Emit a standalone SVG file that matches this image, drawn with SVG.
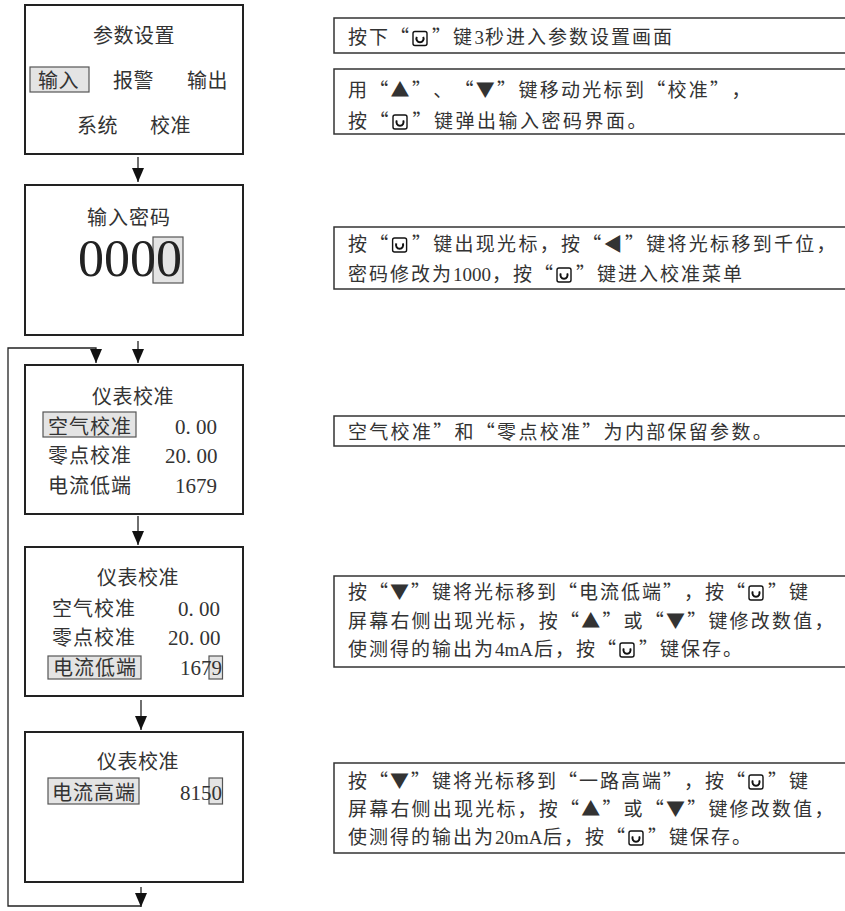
<svg xmlns="http://www.w3.org/2000/svg" xmlns:xlink="http://www.w3.org/1999/xlink" width="845" height="911" viewBox="0 0 845 911">
<style>
.box{fill:#fff;stroke:#222;stroke-width:2}
.note{fill:#fff;stroke:#333;stroke-width:1.5}
.hl{fill:#e4e4e4;stroke:#555;stroke-width:1.2}
.s{font-family:"Noto Sans CJK SC",sans-serif;font-size:20px;fill:#333}
.t{font-family:"Noto Sans CJK SC",sans-serif;font-size:19px;fill:#333}
.n{font-family:"Liberation Serif",serif;font-size:21px;fill:#333}
.tn{font-family:"Liberation Serif",serif}
.big{font-family:"Liberation Serif",serif;font-size:52px;fill:#222}
.c{fill:none;stroke:#222;stroke-width:1.3}
</style>
<defs>
<marker id="ah" viewBox="0 0 14 12" refX="14" refY="6" markerWidth="14" markerHeight="12" markerUnits="userSpaceOnUse" orient="auto">
<path d="M0,0 L14,6 L0,12 Z" fill="#111"/>
</marker>
<g id="key">
<rect x="-7" y="-7" width="14" height="14" rx="2" fill="#fff" stroke="#111" stroke-width="1.4"/>
<path d="M-3.2,-1.6 A3.6,3.6 0 1 0 3.2,-1.6" fill="none" stroke="#111" stroke-width="2"/>
</g>
</defs>

<g id="connectors">
<line class="c" x1="138" y1="157" x2="138" y2="182" marker-end="url(#ah)"/>
<line class="c" x1="138" y1="341" x2="138" y2="363" marker-end="url(#ah)"/>
<line class="c" x1="138" y1="516" x2="138" y2="545" marker-end="url(#ah)"/>
<line class="c" x1="141" y1="700" x2="141" y2="730" marker-end="url(#ah)"/>
<line class="c" x1="141" y1="887" x2="141" y2="907" marker-end="url(#ah)"/>
<path class="c" d="M141,906 H8 V348 H96 V363" marker-end="url(#ah)"/>
</g>

<g id="node-params">
<rect class="box" x="25" y="5" width="218" height="149"/>
<text class="s" x="93 113.5 134 154.5" y="43">参数设置</text>
<rect class="hl" x="30" y="67" width="59" height="25"/>
<text class="s" x="38 58.5" y="87.5">输入</text>
<text class="s" x="113 133.5" y="87.5">报警</text>
<text class="s" x="187 207.5" y="87.5">输出</text>
<text class="s" x="77 97.5" y="132.5">系统</text>
<text class="s" x="150 170.5" y="132.5">校准</text>
</g>

<g id="node-password">
<rect class="box" x="25" y="185" width="218" height="150"/>
<text class="s" x="87 108 129 150" y="225">输入密码</text>
<rect class="hl" x="153" y="237" width="30" height="46"/>
<text class="big" x="78 104 130 156" y="276">0000</text>
</g>

<g id="node-cal1">
<rect class="box" x="25" y="365" width="218" height="149"/>
<text class="s" x="92 112.5 133 153.5" y="404">仪表校准</text>
<rect class="hl" x="43" y="412" width="93" height="25"/>
<text class="s" x="48 69 90 111" y="433.5">空气校准</text>
<text class="n" x="175 185.5 196 206.5" y="433.5">0.00</text>
<text class="s" x="48 69 90 111" y="462.5">零点校准</text>
<text class="n" x="165 175.5 186 196.5 207" y="462.5">20.00</text>
<text class="s" x="48 69 90 111" y="492.5">电流低端</text>
<text class="n" x="175 185.5 196 206.5" y="492.5">1679</text>
</g>

<g id="node-cal2">
<rect class="box" x="25" y="547" width="218" height="149"/>
<text class="s" x="97 117.5 138 158.5" y="585">仪表校准</text>
<text class="s" x="52 73 94 115" y="616">空气校准</text>
<text class="n" x="178 188.5 199 209.5" y="616">0.00</text>
<text class="s" x="52 73 94 115" y="644.5">零点校准</text>
<text class="n" x="168 178.5 189 199.5 210" y="644.5">20.00</text>
<rect class="hl" x="48" y="656" width="93" height="23"/>
<rect class="hl" x="209" y="656" width="13.5" height="23"/>
<text class="s" x="53 74 95 116" y="675">电流低端</text>
<text class="n" x="180 190.5 201 211.5" y="675">1679</text>
</g>

<g id="node-cal3">
<rect class="box" x="25" y="732" width="218" height="150"/>
<text class="s" x="97 117.5 138 158.5" y="769">仪表校准</text>
<rect class="hl" x="48" y="778" width="91" height="26"/>
<rect class="hl" x="209" y="778" width="13.5" height="26"/>
<text class="s" x="52 73 94 115" y="800">电流高端</text>
<text class="n" x="180 190.5 201 211.5" y="800">8150</text>
</g>

<g id="note-1">
<rect class="note" x="334" y="18" width="520" height="35"/>
<text class="t" y="44"><tspan x="348 369 390">按下“</tspan><tspan x="432 453">”键</tspan><tspan class="tn" x="474.5">3</tspan><tspan x="485 506 527 548 569 590 611 632 653">秒进入参数设置画面</tspan></text>
<use xlink:href="#key" x="420" y="38.5"/>
</g>

<g id="note-2">
<rect class="note" x="334" y="69" width="520" height="65"/>
<text class="t" y="97" x="348 369.3 390.6 411.9 433.2 454.5 475.8 497.1 518.4 539.7 561 582.3 603.6 624.9 646.2 667.5 688.8 710.1 731.4">用“▲”、“▼”键移动光标到“校准”，</text>
<text class="t" y="128"><tspan x="348 369.5">按“</tspan><tspan x="412.5 434 455.5 477 498.5 520 541.5 563 584.5 606 627.5">”键弹出输入密码界面。</tspan></text>
<use xlink:href="#key" x="400" y="122"/>
</g>

<g id="note-3">
<rect class="note" x="334" y="227" width="520" height="62"/>
<text class="t" y="251"><tspan x="348 369.3">按“</tspan><tspan x="411.9 433.2 454.5 475.8 497.1 518.4 539.7 561 582.3 603.6 624.9 646.2 667.5 688.8 710.1 731.4 752.7 774 795.3 816.6">”键出现光标，按“◀”键将光标移到千位，</tspan></text>
<use xlink:href="#key" x="399.6" y="245"/>
<text class="t" y="281"><tspan x="348 369 390 411 432">密码修改为</tspan><tspan class="tn" x="453 462.5 472 481.5">1000</tspan><tspan x="492 513 534">，按“</tspan><tspan x="576 597 618 639 660 681 702 723">”键进入校准菜单</tspan></text>
<use xlink:href="#key" x="564" y="275"/>
</g>

<g id="note-4">
<rect class="note" x="334" y="416" width="520" height="30"/>
<text class="t" y="439" x="348 369.3 390.6 411.9 433.2 454.5 475.8 497.1 518.4 539.7 561 582.3 603.6 624.9 646.2 667.5 688.8 710.1 731.4 752.7">空气校准”和“零点校准”为内部保留参数。</text>
</g>

<g id="note-5">
<rect class="note" x="334" y="576" width="520" height="91"/>
<text class="t" y="599"><tspan x="348 369 390 411 432 453 474 495 516 537 558 579 600 621 642 663 684 705 726">按“▼”键将光标移到“电流低端”，按“</tspan><tspan x="768 789">”键</tspan></text>
<use xlink:href="#key" x="756" y="593"/>
<text class="t" y="628" x="348 369.2 390.4 411.6 432.8 454 475.2 496.4 517.6 538.8 560 581.2 602.4 623.6 644.8 666 687.2 708.4 729.6 750.8 772 793.2 814.4">屏幕右侧出现光标，按“▲”或“▼”键修改数值，</text>
<text class="t" y="656"><tspan x="348 369 390 411 432 453 474">使测得的输出为</tspan><tspan class="tn" x="495">4mA</tspan><tspan x="534 555 576 597">后，按“</tspan><tspan x="639 660 681 702 723">”键保存。</tspan></text>
<use xlink:href="#key" x="627" y="650"/>
</g>

<g id="note-6">
<rect class="note" x="334" y="763" width="520" height="90"/>
<text class="t" y="788"><tspan x="348 369 390 411 432 453 474 495 516 537 558 579 600 621 642 663 684 705 726">按“▼”键将光标移到“一路高端”，按“</tspan><tspan x="768 789">”键</tspan></text>
<use xlink:href="#key" x="756" y="782"/>
<text class="t" y="816" x="348 369.2 390.4 411.6 432.8 454 475.2 496.4 517.6 538.8 560 581.2 602.4 623.6 644.8 666 687.2 708.4 729.6 750.8 772 793.2 814.4">屏幕右侧出现光标，按“▲”或“▼”键修改数值，</text>
<text class="t" y="844"><tspan x="348 369 390 411 432 453 474">使测得的输出为</tspan><tspan class="tn" x="495">20mA</tspan><tspan x="543 564 585 606">后，按“</tspan><tspan x="648 669 690 711 732">”键保存。</tspan></text>
<use xlink:href="#key" x="636" y="838"/>
</g>
</svg>
